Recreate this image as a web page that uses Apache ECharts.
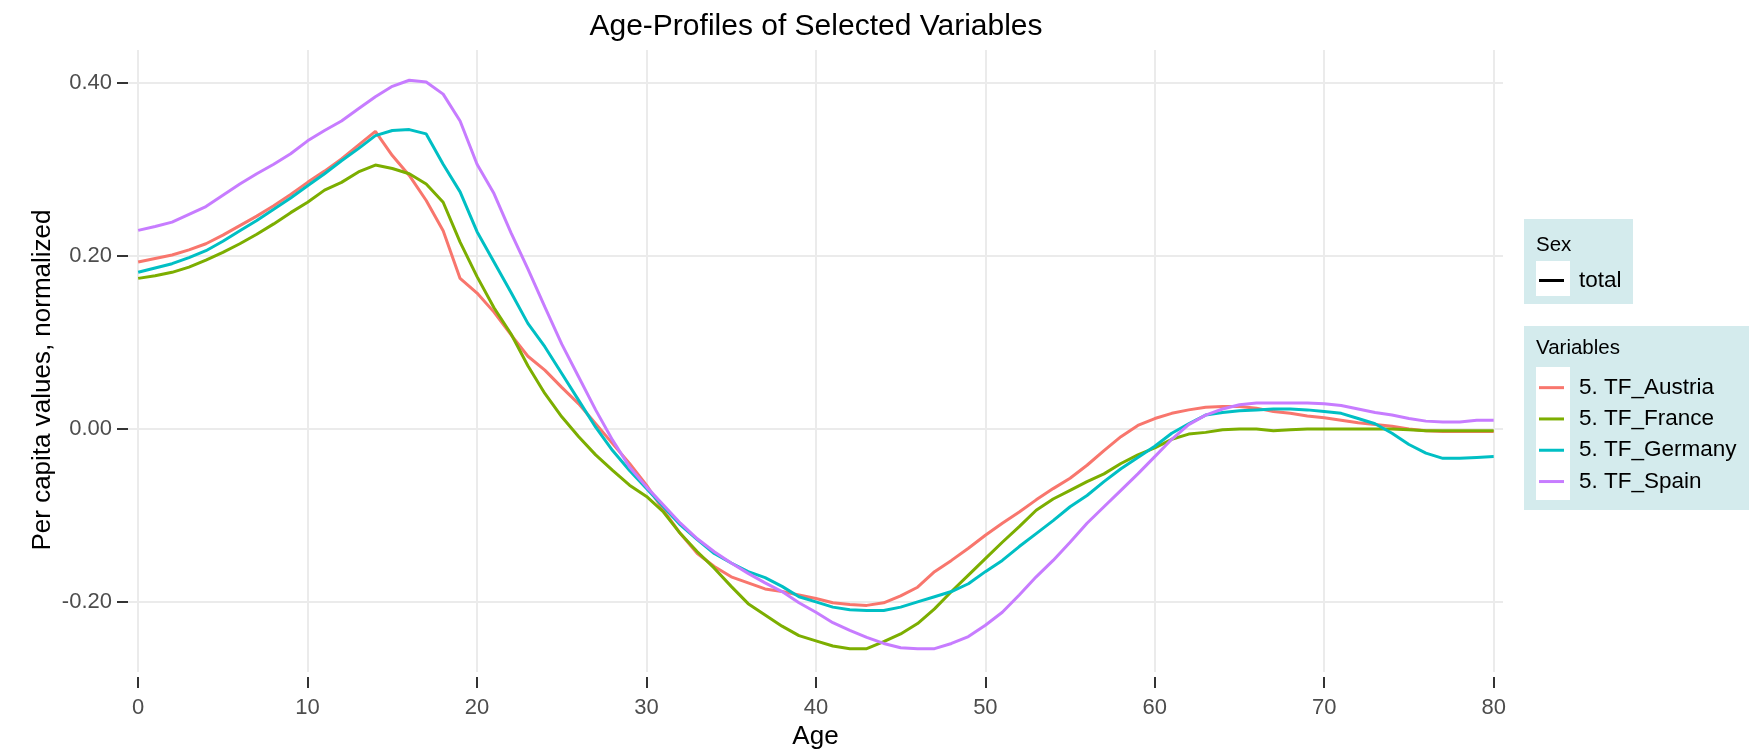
<!DOCTYPE html>
<html>
<head>
<meta charset="utf-8">
<title>Age-Profiles of Selected Variables</title>
<script src="https://cdn.jsdelivr.net/npm/echarts@6/dist/echarts.min.js"></script>
<style>
  html, body { margin: 0; padding: 0; background: #fff; }
  #chart { width: 1753px; height: 749px; }
</style>
</head>
<body>
<div id="chart"></div>
<script>
// ages 0..80
const ages = []
for (let a = 0; a <= 80; a++) ages.push(a)

const austria = [
  0.193, 0.197, 0.201, 0.207, 0.214, 0.224, 0.235, 0.246, 0.258, 0.271,
  0.285, 0.298, 0.312, 0.328, 0.344, 0.316, 0.293, 0.264, 0.229, 0.174,
  0.157, 0.135, 0.109, 0.084, 0.068, 0.048, 0.029, 0.006, -0.017, -0.040,
  -0.065, -0.094, -0.121, -0.144, -0.159, -0.171, -0.178, -0.185, -0.188, -0.192,
  -0.196, -0.201, -0.203, -0.204, -0.201, -0.193, -0.183, -0.165, -0.152, -0.138,
  -0.123, -0.109, -0.096, -0.082, -0.069, -0.057, -0.042, -0.025, -0.009, 0.004,
  0.012, 0.018, 0.022, 0.025, 0.026, 0.026, 0.024, 0.020, 0.018, 0.015,
  0.013, 0.010, 0.007, 0.005, 0.003, 0.000, -0.002, -0.003, -0.003, -0.003,
  -0.003
]
const france = [
  0.174, 0.177, 0.181, 0.187, 0.195, 0.204, 0.214, 0.225, 0.237, 0.250,
  0.262, 0.276, 0.285, 0.297, 0.305, 0.301, 0.295, 0.283, 0.262, 0.216,
  0.176, 0.140, 0.110, 0.073, 0.041, 0.014, -0.009, -0.030, -0.048, -0.065,
  -0.078, -0.096, -0.121, -0.142, -0.161, -0.182, -0.202, -0.215, -0.228, -0.239,
  -0.245, -0.251, -0.254, -0.254, -0.246, -0.237, -0.225, -0.208, -0.188, -0.169,
  -0.150, -0.131, -0.113, -0.094, -0.081, -0.071, -0.061, -0.052, -0.040, -0.030,
  -0.022, -0.012, -0.006, -0.004, -0.001, 0.000, 0.000, -0.002, -0.001, 0.000,
  0.000, 0.000, 0.000, 0.000, 0.000, -0.001, -0.002, -0.002, -0.002, -0.002,
  -0.002
]
const germany = [
  0.181, 0.186, 0.191, 0.198, 0.206, 0.217, 0.229, 0.241, 0.254, 0.267,
  0.281, 0.295, 0.310, 0.324, 0.339, 0.345, 0.346, 0.341, 0.306, 0.274,
  0.228, 0.193, 0.158, 0.122, 0.095, 0.064, 0.033, 0.002, -0.025, -0.048,
  -0.069, -0.090, -0.111, -0.128, -0.144, -0.155, -0.165, -0.172, -0.182, -0.194,
  -0.200, -0.206, -0.209, -0.210, -0.210, -0.206, -0.200, -0.194, -0.188, -0.179,
  -0.165, -0.152, -0.136, -0.121, -0.106, -0.090, -0.077, -0.061, -0.046, -0.033,
  -0.020, -0.005, 0.006, 0.016, 0.019, 0.021, 0.022, 0.023, 0.023, 0.022,
  0.020, 0.018, 0.012, 0.006, -0.005, -0.018, -0.028, -0.034, -0.034, -0.033,
  -0.032
]
const spain = [
  0.2295, 0.234, 0.239, 0.248, 0.257, 0.270, 0.283, 0.295, 0.306, 0.318,
  0.333, 0.345, 0.356, 0.370, 0.384, 0.396, 0.403, 0.401, 0.387, 0.356,
  0.306, 0.272, 0.227, 0.185, 0.141, 0.098, 0.060, 0.022, -0.013, -0.044,
  -0.067, -0.088, -0.109, -0.127, -0.142, -0.155, -0.167, -0.178, -0.188, -0.201,
  -0.212, -0.224, -0.233, -0.241, -0.248, -0.253, -0.254, -0.254, -0.248, -0.240,
  -0.227, -0.212, -0.192, -0.171, -0.152, -0.131, -0.109, -0.090, -0.071, -0.052,
  -0.032, -0.012, 0.005, 0.016, 0.023, 0.028, 0.030, 0.030, 0.030, 0.030,
  0.029, 0.027, 0.023, 0.019, 0.016, 0.012, 0.009, 0.008, 0.008, 0.010,
  0.010
]

const seriesNames = ['5. TF_Austria', '5. TF_France', '5. TF_Germany', '5. TF_Spain']
const seriesValues = [austria, france, germany, spain]
const seriesColors = ['#F8766D', '#7CAE00', '#00BFC4', '#C77CFF']
const xTicks = [0, 10, 20, 30, 40, 50, 60, 70, 80]
const yTicks = [-0.2, 0, 0.2, 0.4]

const font = 'Liberation Sans, Arial, sans-serif'
const legendBg = '#d4ebed'

const lineSeries = seriesNames.map((name, i) => ({
  name: name,
  type: 'line',
  showSymbol: false,
  symbol: 'none',
  color: seriesColors[i],
  lineStyle: { width: 3, color: seriesColors[i] },
  data: ages.map((a, j) => [a, seriesValues[i][j]]),
  z: 3
}))

// dummy series, only for the "Sex" legend key
lineSeries.push({
  name: 'total',
  type: 'line',
  showSymbol: false,
  color: '#000',
  lineStyle: { color: '#000', width: 3 },
  data: []
})

let myChart = echarts.init(document.getElementById('chart'), null, { renderer: 'canvas' })

myChart.setOption({
  animation: false,
  textStyle: { fontFamily: font },
  grid: {
    left: 128,
    right: 250,
    top: 50,
    bottom: 77,
    containLabel: false,
    outerBoundsMode: 'none'
  },
  xAxis: {
    type: 'value',
    min: -0.6,
    max: 80.55,
    offset: 5,
    name: 'Age',
    nameLocation: 'middle',
    nameGap: 46,
    nameTextStyle: { fontSize: 26, color: '#000', fontFamily: font },
    axisLine: { show: false, onZero: false },
    axisTick: {
      show: true,
      length: 11,
      customValues: xTicks,
      lineStyle: { color: '#333', width: 2 }
    },
    axisLabel: {
      customValues: xTicks,
      fontSize: 22,
      color: '#4d4d4d',
      margin: 20,
      fontFamily: font
    },
    splitLine: {
      show: true,
      lineStyle: { color: '#ebebeb', width: 2 }
    }
  },
  yAxis: {
    type: 'value',
    min: -0.281,
    max: 0.438,
    axisLine: { show: false, onZero: false },
    axisTick: {
      show: true,
      length: 11,
      customValues: yTicks,
      lineStyle: { color: '#333', width: 2 }
    },
    axisLabel: {
      customValues: yTicks,
      fontSize: 22,
      color: '#4d4d4d',
      margin: 16,
      fontFamily: font,
      formatter: v => v.toFixed(2)
    },
    splitLine: {
      show: true,
      lineStyle: { color: '#ebebeb', width: 2 }
    }
  },
  legend: [
    {
      data: ['total'],
      orient: 'vertical',
      left: 1539,
      top: 265,
      padding: 0,
      itemGap: 0,
      icon: 'rect',
      itemWidth: 25,
      itemHeight: 3,
      selectedMode: false,
      textStyle: { fontSize: 22.5, lineHeight: 31, color: '#000', padding: [0, 0, 0, 10], fontFamily: font }
    },
    {
      data: seriesNames,
      orient: 'vertical',
      left: 1539,
      top: 372,
      padding: 0,
      itemGap: 0,
      icon: 'rect',
      itemWidth: 25,
      itemHeight: 3,
      selectedMode: false,
      textStyle: { fontSize: 22.5, lineHeight: 31.3, color: '#000', padding: [0, 0, 0, 10], fontFamily: font }
    }
  ],
  graphic: [
    {
      type: 'text',
      x: 816,
      y: 27,
      style: {
        text: 'Age-Profiles of Selected Variables',
        fontSize: 30,
        fontFamily: font,
        fill: '#000',
        textAlign: 'center',
        textVerticalAlign: 'middle'
      }
    },
    {
      type: 'text',
      x: 43,
      y: 380,
      rotation: Math.PI / 2,
      style: {
        text: 'Per capita values, normalized',
        fontSize: 26,
        fontFamily: font,
        fill: '#000',
        textAlign: 'center',
        textVerticalAlign: 'middle'
      }
    },
    // legend boxes
    { type: 'rect', shape: { x: 1524, y: 219, width: 109, height: 85 }, style: { fill: legendBg }, z: -1 },
    { type: 'rect', shape: { x: 1536, y: 261, width: 34, height: 35 }, style: { fill: '#fff' }, z: -1 },
    { type: 'text', x: 1536, y: 245, style: { text: 'Sex', fontSize: 20.5, fontFamily: font, fill: '#000', textVerticalAlign: 'middle' } },
    { type: 'rect', shape: { x: 1524, y: 326, width: 225, height: 184 }, style: { fill: legendBg }, z: -1 },
    { type: 'rect', shape: { x: 1536, y: 367, width: 34, height: 133 }, style: { fill: '#fff' }, z: -1 },
    { type: 'text', x: 1536, y: 348, style: { text: 'Variables', fontSize: 20.5, fontFamily: font, fill: '#000', textVerticalAlign: 'middle' } }
  ],
  series: lineSeries
})
</script>
</body>
</html>
